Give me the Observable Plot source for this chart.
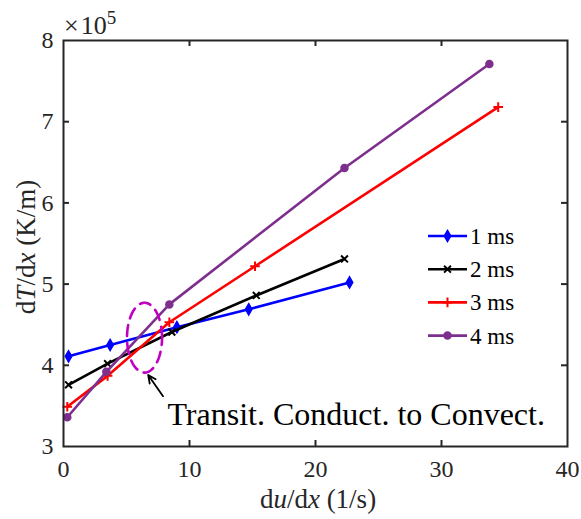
<!DOCTYPE html>
<html>
<head>
<meta charset="utf-8">
<script src="https://cdn.jsdelivr.net/npm/d3@7"></script>
<script src="https://cdn.jsdelivr.net/npm/@observablehq/plot@0.6"></script>
<style>
  html, body { margin: 0; padding: 0; background: #fff; }
  svg { display: block; }
</style>
</head>
<body>
<div id="chart"></div>
<script>
// ---- data (dT/dx in units of 1e5 K/m) ----
const seriesNames = ["1 ms", "2 ms", "3 ms", "4 ms"];
const seriesColors = ["#0000ff", "#000000", "#ff0000", "#7e2f8e"];
const seriesSymbols = ["diamond", "times", "plus", "circle"];
const x1ms = [0.4, 3.7, 9.0, 14.7, 22.7];
const y1ms = [4.11, 4.25, 4.47, 4.69, 5.02];
const x2ms = [0.4, 3.5, 8.6, 15.3, 22.3];
const y2ms = [3.76, 4.02, 4.41, 4.86, 5.31];
const x3ms = [0.3, 3.5, 8.4, 15.2, 34.5];
const y3ms = [3.49, 3.87, 4.53, 5.22, 7.18];
const x4ms = [0.3, 3.4, 8.4, 22.3, 33.8];
const y4ms = [3.36, 3.92, 4.75, 6.43, 7.71];
const xTicks = [0, 10, 20, 30, 40];
const yTicks = [3, 4, 5, 6, 7, 8];
const yExponent = 5;
// annotation (data units)
const annotationText = "Transit. Conduct. to Convect.";
const annotationPos = {x: 8.25, y: 3.39};
const ellipse = {cx: 6.43, cy: 4.34, rx: 1.39, ry: 0.43};
const arrow = {x1: 7.9, y1: 3.62, x2: 6.72, y2: 3.88};

const xs = [x1ms, x2ms, x3ms, x4ms];
const ys = [y1ms, y2ms, y3ms, y4ms];
const table = seriesNames.map((name, i) => xs[i].map((x, j) => ({series: name, x, y: ys[i][j], i})));

const W = 581, H = 519, mL = 63, mR = 14, mT = 40, mB = 73;
const pw = W - mL - mR, ph = H - mT - mB;
const font = "'Liberation Serif', 'Times New Roman', serif";
const ink = "#262626";
const symR = {diamond: 3.4, times: 3.2, plus: 3.2, circle: 3.5};

const ellipsePts = d3.range(0, 361, 2).map(a => ({
  x: ellipse.cx + ellipse.rx * Math.cos(a * Math.PI / 180),
  y: ellipse.cy + ellipse.ry * Math.sin(a * Math.PI / 180)
}));

const seriesMarks = table.flatMap((rows, i) => {
  const c = seriesColors[i];
  const sym = seriesSymbols[i];
  const filled = sym === "diamond" || sym === "circle";
  return [
    Plot.line(rows, {x: "x", y: "y", stroke: c, strokeWidth: 2.6}),
    Plot.dot(rows, {x: "x", y: "y", symbol: () => sym, r: symR[sym],
      fill: filled ? c : "none", stroke: c, strokeWidth: filled ? 1.5 : 2})
  ];
});

const chart = Plot.plot({
  width: W, height: H,
  marginLeft: mL, marginRight: mR, marginTop: mT, marginBottom: mB,
  style: {fontFamily: font, color: ink, background: "#fff"},
  x: {domain: [0, 40]},
  y: {domain: [3, 8]},
  symbol: {type: "identity"},
  marks: [
    Plot.axisX({ticks: xTicks, tickSize: 0, tickPadding: 13, fontSize: 24, label: null, fill: ink, tickFormat: d => String(d)}),
    Plot.axisY({ticks: yTicks, tickSize: 0, tickPadding: 10, fontSize: 24, label: null, fill: ink, tickFormat: d => String(d)}),
    Plot.tickX(xTicks.slice(1, -1), {x: d => d, insetTop: ph - 6, stroke: ink, strokeWidth: 2}),
    Plot.tickX(xTicks.slice(1, -1), {x: d => d, insetBottom: ph - 6, stroke: ink, strokeWidth: 2}),
    Plot.tickY(yTicks.slice(1, -1), {y: d => d, insetRight: pw - 6, stroke: ink, strokeWidth: 2}),
    Plot.tickY(yTicks.slice(1, -1), {y: d => d, insetLeft: pw - 6, stroke: ink, strokeWidth: 2}),
    ...seriesMarks,
    Plot.line(ellipsePts, {x: "x", y: "y", stroke: "#c000c0", strokeWidth: 2.6, strokeDasharray: "11,7"}),
    Plot.arrow([arrow], {x1: "x1", y1: "y1", x2: "x2", y2: "y2", stroke: "#000", strokeWidth: 1.8, headLength: 10, headAngle: 50}),
    Plot.text([annotationPos], {x: "x", y: "y", text: () => annotationText, textAnchor: "start", lineAnchor: "middle", fontSize: 32, fill: "#000", fontFamily: font}),
    Plot.frame({stroke: ink, strokeWidth: 2})
  ]
});

const svg = d3.select(chart);
// exponent label
const ex = svg.append("text").attr("x", mL + 1).attr("y", mT - 6).attr("text-anchor", "start")
  .attr("font-family", font).style("font-size", "26px").attr("fill", ink);
ex.append("tspan").style("font-size", "26px").text("×");
ex.append("tspan").style("font-size", "26px").attr("dx", 2).text("10");
ex.append("tspan").style("font-size", "19px").attr("dy", -10).text(String(yExponent));

// axis labels
const xl = svg.append("text").attr("x", mL + pw / 2 + 3).attr("y", H - 11)
  .attr("text-anchor", "middle").attr("font-family", font).attr("font-size", 27).attr("fill", ink);
xl.append("tspan").text("d");
xl.append("tspan").attr("font-style", "italic").text("u");
xl.append("tspan").text("/d");
xl.append("tspan").attr("font-style", "italic").text("x");
xl.append("tspan").text(" (1/s)");

const yl = svg.append("text").attr("transform", `translate(35,${mT + ph / 2 + 4}) rotate(-90)`)
  .attr("text-anchor", "middle").attr("font-family", font).attr("font-size", 27).attr("fill", ink);
yl.append("tspan").text("d");
yl.append("tspan").attr("font-style", "italic").text("T");
yl.append("tspan").text("/d");
yl.append("tspan").attr("font-style", "italic").text("x");
yl.append("tspan").text(" (K/m)");

// legend
const lg = svg.append("g");
const symMap = {diamond: d3.symbolDiamond, times: d3.symbolTimes, plus: d3.symbolPlus, circle: d3.symbolCircle};
seriesNames.forEach((name, i) => {
  const y = 236 + i * 33.2;
  const c = seriesColors[i];
  const sym = seriesSymbols[i];
  const filled = sym === "diamond" || sym === "circle";
  lg.append("line").attr("x1", 428).attr("x2", 467).attr("y1", y).attr("y2", y)
    .attr("stroke", c).attr("stroke-width", 2.6);
  const r = symR[sym];
  lg.append("path").attr("transform", `translate(447.5,${y})`)
    .attr("d", d3.symbol(symMap[sym], Math.PI * r * r)())
    .attr("fill", filled ? c : "none").attr("stroke", c).attr("stroke-width", filled ? 1.5 : 2);
  lg.append("text").attr("x", 470).attr("y", y + 8).attr("text-anchor", "start").attr("font-family", font)
    .attr("font-size", 23).attr("fill", "#000").text(name);
});

document.getElementById("chart").appendChild(chart);
</script>
</body>
</html>
